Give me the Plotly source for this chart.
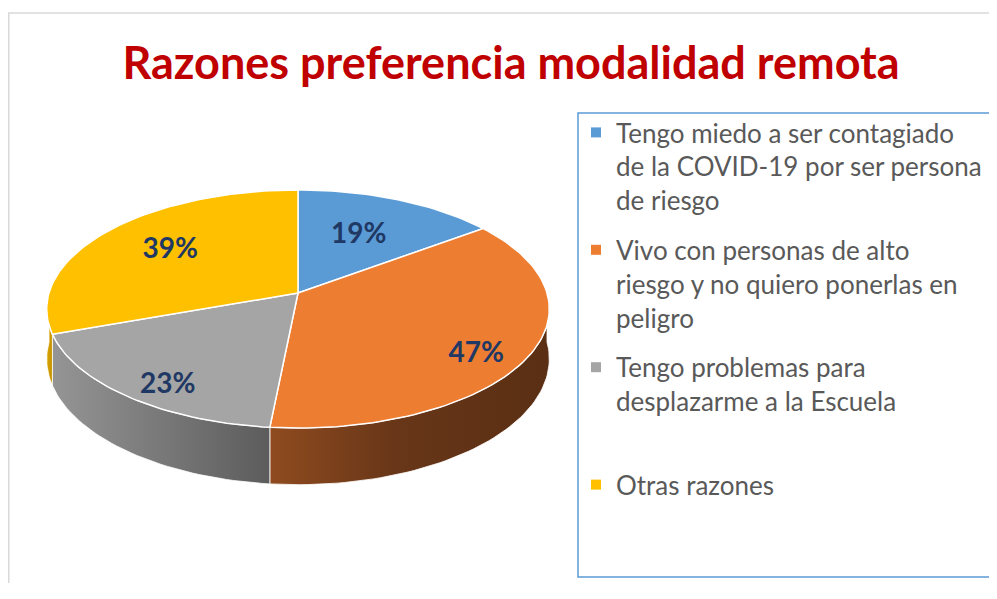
import math
import plotly.graph_objects as go

# ---- data ----
categories = [
    "Tengo miedo a ser contagiado<br>de la COVID-19 por ser persona<br>de riesgo",
    "Vivo con personas de alto<br>riesgo y no quiero ponerlas en<br>peligro",
    "Tengo problemas para<br>desplazarme a la Escuela<br> ",
    "Otras razones",
]
values = [19, 47, 23, 39]
labels = [f"{v}%" for v in values]

# ---- style ----
top_colors = ["#5B9BD5", "#ED7D31", "#A5A5A5", "#FFC000"]
wall_scales = [
    [[0, "#3d6d99"], [1, "#2b4f70"]],
    [[0, "#8f4b1f"], [0.45, "#683618"], [1, "#5a2f13"]],
    [[0, "#959595"], [1, "#5c5c5c"]],
    [[0, "#d9a400"], [1, "#c29300"]],
]
label_radius = [0.58, 0.78, 0.78, 0.66]
label_color = "#203864"
OFF = 8  # browser body margin
W, Hpx = 997 - 2 * OFF, 599 - 3 * OFF


def px(xp):  # page pixel -> paper x
    return (xp - OFF) / W


def py(yp):  # page pixel -> paper y
    return 1 - (yp - OFF) / Hpx


# perspective pie geometry (page pixel space)
CX, CY = 298, 293
R, RK, D = 249, 116.9, 7.43
DEPTH = 49
N = 240


def proj(theta, r=1.0, drop=0.0):
    t = math.radians(theta)
    u = r * math.sin(t)
    v = r * math.cos(t)
    s = D / (D + v)
    return CX + R * u * s, CY - RK * v * s + drop * s


def arc(a0, a1, drop=0.0):
    n = max(2, int(abs(a1 - a0) / 360 * N) + 2)
    pts = [proj(a0 + (a1 - a0) * i / (n - 1), 1.0, drop) for i in range(n)]
    return [p[0] for p in pts], [p[1] for p in pts]


total = sum(values)
bounds = []
acc = 0.0
for v in values:
    a0 = acc / total * 360
    acc += v
    a1 = acc / total * 360
    bounds.append((a0, a1))

fig = go.Figure()

# side walls (front half only: 90..270 degrees)
for i, (a0, a1) in enumerate(bounds):
    lo, hi = max(a0, 90), min(a1, 270)
    if hi <= lo:
        continue
    xt, yt = arc(lo, hi)
    xb, yb = arc(lo, hi, DEPTH)
    xs = xt + xb[::-1] + [xt[0]]
    ys = yt + yb[::-1] + [yt[0]]
    fig.add_trace(go.Scatter(
        x=xs, y=ys, mode="lines", fill="toself",
        fillgradient=dict(type="horizontal", colorscale=wall_scales[i]),
        line=dict(color="rgba(255,255,255,0.8)", width=1),
        hoverinfo="skip", showlegend=False))

# top faces
for i, (a0, a1) in enumerate(bounds):
    xa, ya = arc(a0, a1)
    xs = [CX] + xa + [CX]
    ys = [CY] + ya + [CY]
    fig.add_trace(go.Scatter(
        x=xs, y=ys, mode="lines", fill="toself", fillcolor=top_colors[i],
        line=dict(color="white", width=1.5),
        name=categories[i], hoverinfo="name", showlegend=False))

# labels
lx, ly = [], []
for i, (a0, a1) in enumerate(bounds):
    m = (a0 + a1) / 2
    x, y = proj(m, label_radius[i])
    if math.cos(math.radians(m)) < 0:
        y += DEPTH * 0.3
    lx.append(x)
    ly.append(y)
fig.add_trace(go.Scatter(
    x=lx, y=ly, mode="text", text=labels,
    textfont=dict(family="Lato", size=28, color=label_color, weight="bold"),
    hoverinfo="skip", showlegend=False))

# legend entries
for i, c in enumerate(categories):
    fig.add_trace(go.Scatter(
        x=[None], y=[None], mode="markers",
        marker=dict(symbol="square", size=10, color=top_colors[i]),
        name=c, legendgroup=f"g{i}"))

fig.update_layout(
    width=W, height=Hpx, autosize=False,
    margin=dict(l=0, r=0, t=0, b=0, autoexpand=False),
    paper_bgcolor="white", plot_bgcolor="white",
    xaxis=dict(range=[OFF, W + OFF], visible=False, fixedrange=True),
    yaxis=dict(range=[Hpx + OFF, OFF], visible=False, fixedrange=True),
    title=dict(
        text="<b>Razones preferencia modalidad remota</b>",
        font=dict(family="Lato", size=45, color="#C00000"),
        x=px(511), xanchor="center",
        yref="container", y=py(63), yanchor="middle"),
    legend=dict(
        x=px(576), y=py(109), xanchor="left", yanchor="top",
        font=dict(family="Lato", size=26, color="#595959"),
        valign="top", bgcolor="rgba(0,0,0,0)", borderwidth=0,
        tracegroupgap=13,
        itemclick=False, itemdoubleclick=False),
    shapes=[
        dict(type="rect", xref="paper", yref="paper",
             x0=px(8.8), x1=1.05, y0=-0.05, y1=py(13),
             line=dict(color="#D9D9D9", width=1.5), layer="below"),
        dict(type="rect", xref="paper", yref="paper",
             x0=px(578), x1=1.05, y0=py(577), y1=py(113),
             line=dict(color="#5B9BD5", width=1.5), layer="below"),
    ],
)

fig.write_html("out.html", config={"displayModeBar": False, "responsive": False})
